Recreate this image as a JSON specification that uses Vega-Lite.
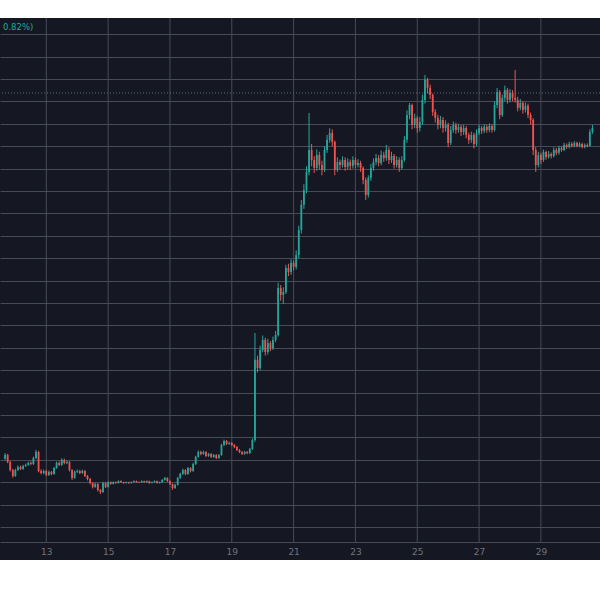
{
  "$schema": "https://vega.github.io/schema/vega-lite/v6.json",
  "width": 600,
  "height": 542,
  "autosize": {"type": "none"},
  "padding": {"top": 18, "bottom": 40, "left": 0, "right": 0},
  "background": "#ffffff",
  "config": {"view": {"stroke": null, "fill": "#151823"}},
  "datasets": {
    "candles": [
      {"d":11.667,"o":13.05,"c":13.21,"h":13.30,"l":13.00},
      {"d":11.75,"o":13.21,"c":12.90,"h":13.26,"l":12.85},
      {"d":11.833,"o":12.90,"c":12.54,"h":12.95,"l":12.48},
      {"d":11.917,"o":12.54,"c":12.28,"h":12.60,"l":12.20},
      {"d":12,"o":12.28,"c":12.54,"h":12.60,"l":12.24},
      {"d":12.083,"o":12.54,"c":12.68,"h":12.75,"l":12.50},
      {"d":12.167,"o":12.68,"c":12.59,"h":12.74,"l":12.54},
      {"d":12.25,"o":12.59,"c":12.72,"h":12.78,"l":12.55},
      {"d":12.333,"o":12.72,"c":12.77,"h":12.83,"l":12.68},
      {"d":12.417,"o":12.77,"c":12.86,"h":12.92,"l":12.73},
      {"d":12.5,"o":12.86,"c":12.81,"h":12.93,"l":12.76},
      {"d":12.583,"o":12.81,"c":13.08,"h":13.14,"l":12.77},
      {"d":12.667,"o":13.08,"c":13.35,"h":13.44,"l":13.03},
      {"d":12.75,"o":13.35,"c":12.50,"h":13.40,"l":12.44},
      {"d":12.833,"o":12.50,"c":12.41,"h":12.58,"l":12.35},
      {"d":12.917,"o":12.41,"c":12.50,"h":12.56,"l":12.36},
      {"d":13,"o":12.50,"c":12.32,"h":12.55,"l":12.27},
      {"d":13.083,"o":12.32,"c":12.46,"h":12.52,"l":12.28},
      {"d":13.167,"o":12.46,"c":12.37,"h":12.50,"l":12.31},
      {"d":13.25,"o":12.37,"c":12.63,"h":12.68,"l":12.33},
      {"d":13.333,"o":12.63,"c":12.86,"h":12.92,"l":12.60},
      {"d":13.417,"o":12.86,"c":12.77,"h":12.93,"l":12.72},
      {"d":13.5,"o":12.77,"c":13.00,"h":13.07,"l":12.73},
      {"d":13.583,"o":13.00,"c":12.86,"h":13.05,"l":12.80},
      {"d":13.667,"o":12.86,"c":12.90,"h":12.97,"l":12.81},
      {"d":13.75,"o":12.90,"c":12.54,"h":12.94,"l":12.48},
      {"d":13.833,"o":12.54,"c":12.19,"h":12.58,"l":12.10},
      {"d":13.917,"o":12.19,"c":12.46,"h":12.52,"l":12.15},
      {"d":14,"o":12.46,"c":12.50,"h":12.57,"l":12.41},
      {"d":14.083,"o":12.50,"c":12.41,"h":12.55,"l":12.36},
      {"d":14.167,"o":12.41,"c":12.50,"h":12.56,"l":12.37},
      {"d":14.25,"o":12.50,"c":12.28,"h":12.54,"l":12.23},
      {"d":14.333,"o":12.28,"c":12.14,"h":12.32,"l":12.08},
      {"d":14.417,"o":12.14,"c":11.96,"h":12.19,"l":11.90},
      {"d":14.5,"o":11.96,"c":11.79,"h":12.00,"l":11.72},
      {"d":14.583,"o":11.79,"c":11.92,"h":11.98,"l":11.75},
      {"d":14.667,"o":11.92,"c":11.65,"h":11.96,"l":11.58},
      {"d":14.75,"o":11.65,"c":11.56,"h":11.70,"l":11.47},
      {"d":14.833,"o":11.56,"c":11.96,"h":12.02,"l":11.52},
      {"d":14.917,"o":11.96,"c":11.79,"h":11.99,"l":11.74},
      {"d":15,"o":11.79,"c":12.00,"h":12.04,"l":11.76},
      {"d":15.083,"o":12.00,"c":11.92,"h":12.03,"l":11.89},
      {"d":15.167,"o":11.92,"c":12.00,"h":12.04,"l":11.90},
      {"d":15.25,"o":12.00,"c":11.96,"h":12.03,"l":11.93},
      {"d":15.333,"o":11.96,"c":12.05,"h":12.08,"l":11.94},
      {"d":15.417,"o":12.05,"c":12.00,"h":12.08,"l":11.97},
      {"d":15.5,"o":12.00,"c":11.96,"h":12.02,"l":11.93},
      {"d":15.583,"o":11.96,"c":12.00,"h":12.03,"l":11.94},
      {"d":15.667,"o":12.00,"c":11.96,"h":12.02,"l":11.93},
      {"d":15.75,"o":11.96,"c":12.00,"h":12.03,"l":11.94},
      {"d":15.833,"o":12.00,"c":12.05,"h":12.08,"l":11.98},
      {"d":15.917,"o":12.05,"c":12.00,"h":12.07,"l":11.97},
      {"d":16,"o":12.00,"c":11.99,"h":12.03,"l":11.96},
      {"d":16.083,"o":11.99,"c":12.05,"h":12.08,"l":11.97},
      {"d":16.167,"o":12.05,"c":12.00,"h":12.07,"l":11.98},
      {"d":16.25,"o":12.00,"c":12.05,"h":12.08,"l":11.98},
      {"d":16.333,"o":12.05,"c":11.96,"h":12.07,"l":11.93},
      {"d":16.417,"o":11.96,"c":12.00,"h":12.03,"l":11.94},
      {"d":16.5,"o":12.00,"c":12.05,"h":12.08,"l":11.98},
      {"d":16.583,"o":12.05,"c":11.96,"h":12.07,"l":11.94},
      {"d":16.667,"o":11.96,"c":12.00,"h":12.03,"l":11.94},
      {"d":16.75,"o":12.00,"c":12.10,"h":12.14,"l":11.98},
      {"d":16.833,"o":12.10,"c":12.19,"h":12.24,"l":12.07},
      {"d":16.917,"o":12.19,"c":12.05,"h":12.22,"l":12.01},
      {"d":17,"o":12.05,"c":11.92,"h":12.08,"l":11.87},
      {"d":17.083,"o":11.92,"c":11.74,"h":11.95,"l":11.66},
      {"d":17.167,"o":11.74,"c":11.88,"h":11.93,"l":11.70},
      {"d":17.25,"o":11.88,"c":12.19,"h":12.24,"l":11.85},
      {"d":17.333,"o":12.19,"c":12.37,"h":12.42,"l":12.15},
      {"d":17.417,"o":12.37,"c":12.54,"h":12.60,"l":12.33},
      {"d":17.5,"o":12.54,"c":12.37,"h":12.58,"l":12.31},
      {"d":17.583,"o":12.37,"c":12.63,"h":12.68,"l":12.33},
      {"d":17.667,"o":12.63,"c":12.50,"h":12.67,"l":12.44},
      {"d":17.75,"o":12.50,"c":12.81,"h":12.87,"l":12.46},
      {"d":17.833,"o":12.81,"c":13.13,"h":13.18,"l":12.77},
      {"d":17.917,"o":13.13,"c":13.35,"h":13.42,"l":13.09},
      {"d":18,"o":13.35,"c":13.26,"h":13.40,"l":13.20},
      {"d":18.083,"o":13.26,"c":13.35,"h":13.41,"l":13.22},
      {"d":18.167,"o":13.35,"c":13.17,"h":13.39,"l":13.12},
      {"d":18.25,"o":13.17,"c":13.26,"h":13.31,"l":13.13},
      {"d":18.333,"o":13.26,"c":13.13,"h":13.30,"l":13.08},
      {"d":18.417,"o":13.13,"c":13.21,"h":13.26,"l":13.09},
      {"d":18.5,"o":13.21,"c":13.08,"h":13.25,"l":13.03},
      {"d":18.583,"o":13.08,"c":13.21,"h":13.26,"l":13.05},
      {"d":18.667,"o":13.21,"c":13.66,"h":13.72,"l":13.18},
      {"d":18.75,"o":13.66,"c":13.84,"h":13.90,"l":13.61},
      {"d":18.833,"o":13.84,"c":13.71,"h":13.88,"l":13.66},
      {"d":18.917,"o":13.71,"c":13.75,"h":13.81,"l":13.67},
      {"d":19,"o":13.75,"c":13.66,"h":13.79,"l":13.61},
      {"d":19.083,"o":13.66,"c":13.57,"h":13.70,"l":13.52},
      {"d":19.167,"o":13.57,"c":13.44,"h":13.61,"l":13.39},
      {"d":19.25,"o":13.44,"c":13.35,"h":13.48,"l":13.30},
      {"d":19.333,"o":13.35,"c":13.26,"h":13.39,"l":13.21},
      {"d":19.417,"o":13.26,"c":13.35,"h":13.40,"l":13.22},
      {"d":19.5,"o":13.35,"c":13.30,"h":13.39,"l":13.25},
      {"d":19.583,"o":13.30,"c":13.48,"h":13.53,"l":13.26},
      {"d":19.667,"o":13.48,"c":13.88,"h":13.95,"l":13.44},
      {"d":19.75,"o":13.88,"c":17.46,"h":18.66,"l":13.80},
      {"d":19.833,"o":17.46,"c":17.10,"h":17.65,"l":16.90},
      {"d":19.917,"o":17.10,"c":17.90,"h":18.10,"l":17.00},
      {"d":20,"o":17.90,"c":18.35,"h":18.55,"l":17.80},
      {"d":20.083,"o":18.35,"c":17.81,"h":18.45,"l":17.65},
      {"d":20.167,"o":17.81,"c":18.21,"h":18.40,"l":17.70},
      {"d":20.25,"o":18.21,"c":17.99,"h":18.30,"l":17.85},
      {"d":20.333,"o":17.99,"c":18.35,"h":18.50,"l":17.90},
      {"d":20.417,"o":18.35,"c":18.57,"h":18.75,"l":18.25},
      {"d":20.5,"o":18.57,"c":20.67,"h":20.90,"l":18.50},
      {"d":20.583,"o":20.67,"c":20.36,"h":20.80,"l":20.10},
      {"d":20.667,"o":20.36,"c":20.49,"h":20.70,"l":19.95},
      {"d":20.75,"o":20.49,"c":21.56,"h":21.70,"l":20.40},
      {"d":20.833,"o":21.56,"c":21.38,"h":21.75,"l":21.20},
      {"d":20.917,"o":21.38,"c":21.79,"h":21.95,"l":21.25},
      {"d":21,"o":21.79,"c":21.61,"h":21.90,"l":21.45},
      {"d":21.083,"o":21.61,"c":22.14,"h":22.35,"l":21.50},
      {"d":21.167,"o":22.14,"c":23.26,"h":23.45,"l":22.00},
      {"d":21.25,"o":23.26,"c":24.38,"h":24.60,"l":23.10},
      {"d":21.333,"o":24.38,"c":25.04,"h":25.30,"l":24.20},
      {"d":21.417,"o":25.04,"c":25.85,"h":26.10,"l":24.90},
      {"d":21.5,"o":25.85,"c":26.83,"h":28.48,"l":25.70},
      {"d":21.583,"o":26.83,"c":26.38,"h":27.10,"l":26.10},
      {"d":21.667,"o":26.38,"c":26.03,"h":26.55,"l":25.80},
      {"d":21.75,"o":26.03,"c":26.61,"h":26.85,"l":25.90},
      {"d":21.833,"o":26.61,"c":26.16,"h":26.75,"l":25.95},
      {"d":21.917,"o":26.16,"c":25.94,"h":26.35,"l":25.70},
      {"d":22,"o":25.94,"c":26.83,"h":27.00,"l":25.85},
      {"d":22.083,"o":26.83,"c":27.28,"h":27.50,"l":26.70},
      {"d":22.167,"o":27.28,"c":27.59,"h":27.80,"l":27.15},
      {"d":22.25,"o":27.59,"c":27.19,"h":27.75,"l":27.00},
      {"d":22.333,"o":27.19,"c":25.94,"h":27.25,"l":25.70},
      {"d":22.417,"o":25.94,"c":26.29,"h":26.50,"l":25.85},
      {"d":22.5,"o":26.29,"c":26.16,"h":26.40,"l":25.95},
      {"d":22.583,"o":26.16,"c":26.38,"h":26.55,"l":26.05},
      {"d":22.667,"o":26.38,"c":26.07,"h":26.50,"l":25.90},
      {"d":22.75,"o":26.07,"c":26.29,"h":26.45,"l":25.95},
      {"d":22.833,"o":26.29,"c":26.12,"h":26.40,"l":25.95},
      {"d":22.917,"o":26.12,"c":26.38,"h":26.55,"l":26.00},
      {"d":23,"o":26.38,"c":26.16,"h":26.50,"l":26.00},
      {"d":23.083,"o":26.16,"c":26.25,"h":26.42,"l":26.05},
      {"d":23.167,"o":26.25,"c":26.03,"h":26.35,"l":25.85},
      {"d":23.25,"o":26.03,"c":25.49,"h":26.10,"l":25.30},
      {"d":23.333,"o":25.49,"c":24.82,"h":25.60,"l":24.60},
      {"d":23.417,"o":24.82,"c":25.58,"h":25.70,"l":24.70},
      {"d":23.5,"o":25.58,"c":26.03,"h":26.20,"l":25.45},
      {"d":23.583,"o":26.03,"c":26.29,"h":26.45,"l":25.90},
      {"d":23.667,"o":26.29,"c":26.47,"h":26.65,"l":26.15},
      {"d":23.75,"o":26.47,"c":26.25,"h":26.60,"l":26.10},
      {"d":23.833,"o":26.25,"c":26.61,"h":26.80,"l":26.15},
      {"d":23.917,"o":26.61,"c":26.47,"h":26.75,"l":26.30},
      {"d":24,"o":26.47,"c":26.83,"h":27.05,"l":26.35},
      {"d":24.083,"o":26.83,"c":26.38,"h":26.95,"l":26.20},
      {"d":24.167,"o":26.38,"c":26.56,"h":26.75,"l":26.25},
      {"d":24.25,"o":26.56,"c":26.16,"h":26.65,"l":26.00},
      {"d":24.333,"o":26.16,"c":26.38,"h":26.55,"l":26.05},
      {"d":24.417,"o":26.38,"c":26.03,"h":26.50,"l":25.85},
      {"d":24.5,"o":26.03,"c":26.38,"h":26.55,"l":25.95},
      {"d":24.583,"o":26.38,"c":27.28,"h":27.45,"l":26.30},
      {"d":24.667,"o":27.28,"c":28.39,"h":28.60,"l":27.15},
      {"d":24.75,"o":28.39,"c":28.84,"h":28.93,"l":28.20},
      {"d":24.833,"o":28.84,"c":27.95,"h":28.90,"l":27.75},
      {"d":24.917,"o":27.95,"c":28.26,"h":28.45,"l":27.80},
      {"d":25,"o":28.26,"c":27.81,"h":28.35,"l":27.60},
      {"d":25.083,"o":27.81,"c":28.08,"h":28.30,"l":27.65},
      {"d":25.167,"o":28.08,"c":29.06,"h":29.30,"l":27.95},
      {"d":25.25,"o":29.06,"c":29.96,"h":30.18,"l":28.90},
      {"d":25.333,"o":29.96,"c":29.60,"h":30.05,"l":29.35},
      {"d":25.417,"o":29.60,"c":29.29,"h":29.75,"l":29.10},
      {"d":25.5,"o":29.29,"c":28.53,"h":29.35,"l":28.35},
      {"d":25.583,"o":28.53,"c":28.26,"h":28.65,"l":28.05},
      {"d":25.667,"o":28.26,"c":27.95,"h":28.40,"l":27.75},
      {"d":25.75,"o":27.95,"c":28.17,"h":28.35,"l":27.80},
      {"d":25.833,"o":28.17,"c":27.81,"h":28.30,"l":27.60},
      {"d":25.917,"o":27.81,"c":27.95,"h":28.15,"l":27.65},
      {"d":26,"o":27.95,"c":27.14,"h":28.05,"l":26.95},
      {"d":26.083,"o":27.14,"c":27.72,"h":27.90,"l":27.05},
      {"d":26.167,"o":27.72,"c":27.95,"h":28.10,"l":27.60},
      {"d":26.25,"o":27.95,"c":27.72,"h":28.05,"l":27.55},
      {"d":26.333,"o":27.72,"c":27.86,"h":28.00,"l":27.60},
      {"d":26.417,"o":27.86,"c":27.63,"h":27.95,"l":27.45},
      {"d":26.5,"o":27.63,"c":27.81,"h":27.95,"l":27.50},
      {"d":26.583,"o":27.81,"c":27.50,"h":27.90,"l":27.35},
      {"d":26.667,"o":27.50,"c":27.28,"h":27.60,"l":27.10},
      {"d":26.75,"o":27.28,"c":27.50,"h":27.65,"l":27.15},
      {"d":26.833,"o":27.50,"c":27.10,"h":27.60,"l":26.90},
      {"d":26.917,"o":27.10,"c":27.59,"h":27.75,"l":27.00},
      {"d":27,"o":27.59,"c":27.81,"h":27.95,"l":27.50},
      {"d":27.083,"o":27.81,"c":27.68,"h":27.90,"l":27.55},
      {"d":27.167,"o":27.68,"c":27.86,"h":27.98,"l":27.58},
      {"d":27.25,"o":27.86,"c":27.72,"h":27.95,"l":27.60},
      {"d":27.333,"o":27.72,"c":27.90,"h":28.02,"l":27.62},
      {"d":27.417,"o":27.90,"c":27.72,"h":27.98,"l":27.60},
      {"d":27.5,"o":27.72,"c":28.84,"h":29.00,"l":27.65},
      {"d":27.583,"o":28.84,"c":29.42,"h":29.60,"l":28.70},
      {"d":27.667,"o":29.42,"c":28.39,"h":29.50,"l":28.20},
      {"d":27.75,"o":28.39,"c":29.15,"h":29.30,"l":28.30},
      {"d":27.833,"o":29.15,"c":29.51,"h":29.70,"l":29.00},
      {"d":27.917,"o":29.51,"c":29.06,"h":29.60,"l":28.90},
      {"d":28,"o":29.06,"c":29.38,"h":29.55,"l":28.95},
      {"d":28.083,"o":29.38,"c":29.15,"h":29.50,"l":29.00},
      {"d":28.167,"o":29.15,"c":29.06,"h":30.40,"l":28.95},
      {"d":28.25,"o":29.06,"c":28.71,"h":29.20,"l":28.55},
      {"d":28.333,"o":28.71,"c":28.93,"h":29.10,"l":28.60},
      {"d":28.417,"o":28.93,"c":28.62,"h":29.00,"l":28.45},
      {"d":28.5,"o":28.62,"c":28.80,"h":28.95,"l":28.50},
      {"d":28.583,"o":28.80,"c":28.39,"h":28.90,"l":28.25},
      {"d":28.667,"o":28.39,"c":28.17,"h":28.50,"l":27.95},
      {"d":28.75,"o":28.17,"c":26.83,"h":28.25,"l":26.60},
      {"d":28.833,"o":26.83,"c":26.16,"h":26.95,"l":25.85},
      {"d":28.917,"o":26.16,"c":26.61,"h":26.75,"l":26.05},
      {"d":29,"o":26.61,"c":26.38,"h":26.70,"l":26.20},
      {"d":29.083,"o":26.38,"c":26.74,"h":26.85,"l":26.30},
      {"d":29.167,"o":26.74,"c":26.52,"h":26.80,"l":26.40},
      {"d":29.25,"o":26.52,"c":26.65,"h":26.78,"l":26.45},
      {"d":29.333,"o":26.65,"c":26.56,"h":26.72,"l":26.45},
      {"d":29.417,"o":26.56,"c":26.83,"h":26.95,"l":26.50},
      {"d":29.5,"o":26.83,"c":26.70,"h":26.92,"l":26.60},
      {"d":29.583,"o":26.70,"c":26.92,"h":27.02,"l":26.62},
      {"d":29.667,"o":26.92,"c":26.83,"h":27.00,"l":26.75},
      {"d":29.75,"o":26.83,"c":27.05,"h":27.15,"l":26.78},
      {"d":29.833,"o":27.05,"c":26.96,"h":27.12,"l":26.88},
      {"d":29.917,"o":26.96,"c":27.10,"h":27.20,"l":26.90},
      {"d":30,"o":27.10,"c":27.01,"h":27.18,"l":26.95},
      {"d":30.083,"o":27.01,"c":27.14,"h":27.22,"l":26.95},
      {"d":30.167,"o":27.14,"c":27.01,"h":27.20,"l":26.95},
      {"d":30.25,"o":27.01,"c":27.10,"h":27.18,"l":26.95},
      {"d":30.333,"o":27.10,"c":26.96,"h":27.15,"l":26.90},
      {"d":30.417,"o":26.96,"c":27.05,"h":27.12,"l":26.90},
      {"d":30.5,"o":27.05,"c":27.01,"h":27.12,"l":26.95},
      {"d":30.583,"o":27.01,"c":27.63,"h":27.75,"l":26.98},
      {"d":30.667,"o":27.63,"c":27.81,"h":27.95,"l":27.55}
    ],
    "vgrid": [{"d":13},{"d":15},{"d":17},{"d":19},{"d":21},{"d":23},{"d":25},{"d":27},{"d":29}],
    "header": [{"label":"0.82%)"}]
  },
  "layer": [
    {
      "data": {"name": "vgrid"},
      "mark": {"type": "rule", "color": "#474b57", "strokeWidth": 1},
      "encoding": {
        "x": {"field": "d", "type": "quantitative", "scale": {"domain": [11.664, 30.75], "nice": false, "zero": false},
              "axis": {"values": [13,15,17,19,21,23,25,27,29], "grid": false, "ticks": false, "domain": false, "title": null,
                       "labelColor": "#70737e", "labelFontSize": 9, "labelFont": "DejaVu Sans", "offset": -18, "labelPadding": 5}},
        "y": {"datum": 9.33, "type": "quantitative", "scale": {"domain": [8.527, 32.72], "nice": false, "zero": false},
              "axis": {"values": [9.33,10,11,12,13,14,15,16,17,18,19,20,21,22,23,24,25,26,27,28,29,30,31,32], "grid": true, "gridColor": "#474b57", "gridWidth": 1,
                       "labels": false, "ticks": false, "domain": false, "title": null}},
        "y2": {"datum": 32.72}
      }
    },
    {
      "data": {"name": "header"},
      "mark": {"type": "rule", "color": "#5b6b73", "strokeDash": [1, 2], "strokeWidth": 1},
      "encoding": {"y": {"datum": 29.375, "type": "quantitative",
              "axis": {"values": [9.33,10,11,12,13,14,15,16,17,18,19,20,21,22,23,24,25,26,27,28,29,30,31,32], "grid": true, "gridColor": "#474b57", "gridWidth": 1,
                       "labels": false, "ticks": false, "domain": false, "title": null}}}
    },
    {
      "data": {"name": "candles"},
      "mark": {"type": "rule", "strokeWidth": 1},
      "encoding": {
        "x": {"field": "d", "type": "quantitative",
              "axis": {"values": [13,15,17,19,21,23,25,27,29], "grid": false, "ticks": false, "domain": false, "title": null,
                       "labelColor": "#70737e", "labelFontSize": 9, "labelFont": "DejaVu Sans", "offset": -18, "labelPadding": 5}},
        "y": {"field": "l", "type": "quantitative",
              "axis": {"values": [9.33,10,11,12,13,14,15,16,17,18,19,20,21,22,23,24,25,26,27,28,29,30,31,32], "grid": true, "gridColor": "#474b57", "gridWidth": 1,
                       "labels": false, "ticks": false, "domain": false, "title": null}},
        "y2": {"field": "h"},
        "color": {"condition": {"test": "datum.c >= datum.o", "value": "#26a69a"}, "value": "#ef5350"}
      }
    },
    {
      "data": {"name": "candles"},
      "mark": {"type": "bar", "size": 1.8},
      "encoding": {
        "x": {"field": "d", "type": "quantitative",
              "axis": {"values": [13,15,17,19,21,23,25,27,29], "grid": false, "ticks": false, "domain": false, "title": null,
                       "labelColor": "#70737e", "labelFontSize": 9, "labelFont": "DejaVu Sans", "offset": -18, "labelPadding": 5}},
        "y": {"field": "o", "type": "quantitative",
              "axis": {"values": [9.33,10,11,12,13,14,15,16,17,18,19,20,21,22,23,24,25,26,27,28,29,30,31,32], "grid": true, "gridColor": "#474b57", "gridWidth": 1,
                       "labels": false, "ticks": false, "domain": false, "title": null}},
        "y2": {"field": "c"},
        "color": {"condition": {"test": "datum.c >= datum.o", "value": "#26a69a"}, "value": "#ef5350"}
      }
    },
    {
      "data": {"name": "header"},
      "mark": {"type": "text", "align": "left", "baseline": "middle", "color": "#26a69a", "fontSize": 8.5, "font": "DejaVu Sans", "dx": -2},
      "encoding": {
        "x": {"datum": 11.664, "type": "quantitative",
              "axis": {"values": [13,15,17,19,21,23,25,27,29], "grid": false, "ticks": false, "domain": false, "title": null,
                       "labelColor": "#70737e", "labelFontSize": 9, "labelFont": "DejaVu Sans", "offset": -18, "labelPadding": 5}},
        "y": {"datum": 32.3, "type": "quantitative",
              "axis": {"values": [9.33,10,11,12,13,14,15,16,17,18,19,20,21,22,23,24,25,26,27,28,29,30,31,32], "grid": true, "gridColor": "#474b57", "gridWidth": 1,
                       "labels": false, "ticks": false, "domain": false, "title": null}},
        "text": {"field": "label"}
      }
    }
  ]
}
